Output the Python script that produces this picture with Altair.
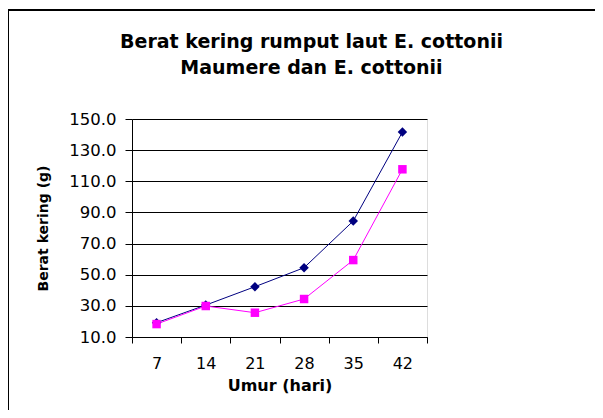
import altair as alt
import pandas as pd

days = [7, 14, 21, 28, 35, 42]
maumere = [19.2, 30.5, 42.3, 54.5, 84.5, 141.6]
tembalang = [18.3, 29.9, 25.6, 34.4, 59.4, 117.7]
series_names = ["E. cottonii|Maumere", "E.cottonii|tembalang"]
series_colors = ["#000080", "#FF00FF"]
y_ticks = [10, 30, 50, 70, 90, 110, 130, 150]
x_bounds = [3.5, 10.5, 17.5, 24.5, 31.5, 38.5, 45.5]
title_lines = ["Berat kering rumput laut E. cottonii", "Maumere dan E. cottonii"]

rows = []
for d, a, b in zip(days, maumere, tembalang):
    rows.append({"day": d, "value": a, "series": series_names[0]})
    rows.append({"day": d, "value": b, "series": series_names[1]})
df = pd.DataFrame(rows)

FONT = "DejaVu Sans"

x_enc = alt.X(
    "day:Q",
    scale=alt.Scale(domain=[3.5, 45.5], nice=False, zero=False),
    axis=alt.Axis(
        values=x_bounds,
        labelExpr="datum.value < 45 ? format(datum.value + 3.5, 'd') : ''",
        labelOffset=24.5, labelFlush=False, labelOverlap=False, grid=False,
        tickSize=6, tickColor="black", domainColor="black",
        labelColor="black", labelFont=FONT, labelFontSize=16, labelPadding=12,
        title="Umur (hari)", titleFont=FONT, titleFontSize=16,
        titleFontWeight="bold", titleColor="black", titlePadding=6,
    ),
)
y_enc = alt.Y(
    "value:Q",
    scale=alt.Scale(domain=[10, 150], nice=False, zero=False),
    axis=alt.Axis(
        values=y_ticks, format=".1f", grid=True, gridColor="black",
        gridOpacity=1, gridWidth=1, tickSize=7, tickColor="black",
        domainColor="black", labelColor="black", labelFont=FONT,
        labelFontSize=16.5, labelPadding=9,
        title="Berat kering (g)", titleFont=FONT, titleFontSize=14,
        titleFontWeight="bold", titleColor="black", titlePadding=18,
    ),
)
color_enc = alt.Color("series:N", scale=alt.Scale(domain=series_names, range=series_colors), legend=None)

lines = alt.Chart(df).mark_line(strokeWidth=1).encode(x=x_enc, y=y_enc, color=color_enc)
points = alt.Chart(df).mark_point(filled=True, opacity=1).encode(
    x=x_enc, y=y_enc, color=color_enc,
    shape=alt.condition(alt.datum.series == series_names[0], alt.value("diamond"), alt.value("square")),
    size=alt.condition(alt.datum.series == series_names[0], alt.value(90), alt.value(72)),
)

path_d = "M-1,0L1,0M0,-0.22L0.22,0L0,0.22L-0.22,0Z"
path_s = "M-1,0L1,0M-0.21,-0.21L0.21,-0.21L0.21,0.21L-0.21,0.21Z"
leg = alt.Legend(
    title=None, orient="none", legendX=311, legendY=51, padding=2, symbolOffset=7,
    strokeColor="black", fillColor="white", labelFont=FONT, labelFontSize=16,
    labelColor="black", labelExpr="split(datum.label, '|')", labelOffset=7,
    symbolSize=1600, symbolStrokeWidth=1, rowPadding=0, labelLimit=200,
    cornerRadius=0,
)
# legend-only layer: its own marks are moved outside the y domain and clipped away
legend_layer = alt.Chart(df).transform_calculate(value="-1000").mark_point(
    filled=True, opacity=1, clip=True
).encode(
    x=x_enc, y=y_enc,
    fill=alt.Fill("series:N", scale=alt.Scale(domain=series_names, range=series_colors), legend=leg),
    stroke=alt.Stroke("series:N", scale=alt.Scale(domain=series_names, range=series_colors), legend=leg),
    shape=alt.Shape("series:N", scale=alt.Scale(domain=series_names, range=[path_d, path_s]), legend=leg),
)

frame = alt.Chart(alt.Data(values=[{"a": 1}])).mark_rect(
    fill="transparent", stroke="black", strokeWidth=2
).encode(x=alt.value(-124), x2=alt.value(480), y=alt.value(-109), y2=alt.value(330))

chart = alt.layer(frame, lines, points, legend_layer).properties(
    width=295, height=218,
    title=alt.TitleParams(
        text=title_lines, font=FONT, fontSize=19, fontWeight="bold", color="black",
        anchor="middle", frame="group", dx=32, offset=-69, lineHeight=26,
    ),
    autosize=alt.AutoSizeParams(type="none"),
    padding={"left": 124, "top": 111, "right": 168, "bottom": 73},
).configure_view(strokeWidth=0).configure(background="white")

chart.save("out.html", embed_options={"renderer": "svg", "actions": False})
